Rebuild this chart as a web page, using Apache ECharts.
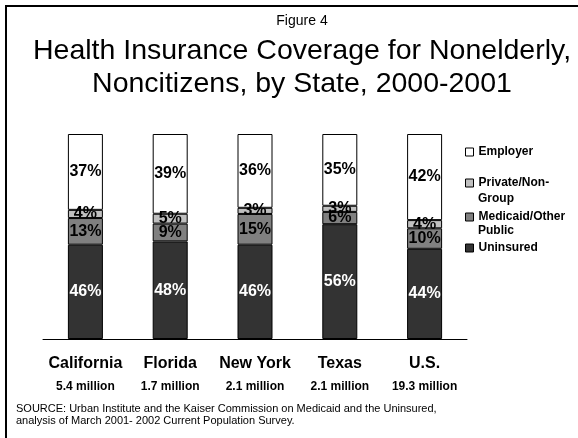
<!DOCTYPE html>
<html>
<head>
<meta charset="utf-8">
<script src="https://cdn.jsdelivr.net/npm/echarts@6/dist/echarts.min.js"></script>
<style>
  html, body { margin: 0; padding: 0; background: #fff; }
  #chart { width: 578px; height: 438px; }
</style>
</head>
<body>
<div id="chart"></div>
<script>
var categories = ['California', 'Florida', 'New York', 'Texas', 'U.S.'];
var populations = ['5.4 million', '1.7 million', '2.1 million', '2.1 million', '19.3 million'];

// shares in percent (Florida labels round to 101)
var uninsured = [46, 47.6, 46, 56, 44];
var medicaid = [13, 8.7, 15, 6, 10];
var privateNonGroup = [4, 4.8, 3, 3, 4];
var employer = [37, 38.9, 36, 35, 42];

var FONT = '"Liberation Sans", Arial, sans-serif';

function barSerie(name, data, color, labelColor) {
	return {
		name: name,
		type: 'bar',
		stack: 'total',
		barWidth: 35,
		data: data,
		itemStyle: { color: color, borderColor: '#000', borderWidth: 1 },
		label: {
			show: true,
			position: 'inside',
			color: labelColor,
			fontSize: 16,
			fontWeight: 'bold',
			fontFamily: FONT,
			formatter: function (p) { return Math.round(p.value) + '%'; }
		}
	};
}

function legendItem(name, firstLine, top) {
	return {
		data: [{ name: name, icon: 'rect' }],
		left: 465,
		top: top,
		padding: 0,
		itemWidth: 8,
		itemHeight: 8,
		selectedMode: false,
		itemStyle: { borderColor: '#000', borderWidth: 1 },
		formatter: function () { return firstLine; },
		textStyle: { fontSize: 12, fontWeight: 'bold', color: '#000', fontFamily: FONT }
	};
}

function sideText(text, x, y, size, weight, align) {
	return {
		type: 'text',
		x: x,
		y: y,
		style: {
			text: text,
			fill: '#000',
			font: (weight || 'normal') + ' ' + size + 'px ' + FONT,
			textAlign: align || 'center',
			textVerticalAlign: 'middle'
		}
	};
}

var chartObj = echarts.init(document.getElementById('chart'));
var option = {
	animation: false,
	backgroundColor: '#fff',
	textStyle: { fontFamily: FONT },
	grid: { left: 43, right: 111, top: 134, bottom: 99 },
	legend: [
		legendItem('Employer', 'Employer', 146),
		legendItem('Private/Non-Group', 'Private/Non-', 177),
		legendItem('Medicaid/Other Public', 'Medicaid/Other', 211),
		legendItem('Uninsured', 'Uninsured', 242)
	],
	xAxis: {
		type: 'category',
		data: categories,
		axisLine: { lineStyle: { color: '#000', width: 1 } },
		axisTick: { show: false },
		axisLabel: {
			margin: 8,
			interval: 0,
			formatter: function (value, idx) {
				return '{a|' + value + '}\n{b|' + populations[idx] + '}';
			},
			rich: {
				a: { fontSize: 16, fontWeight: 'bold', color: '#000', lineHeight: 33, fontFamily: FONT },
				b: { fontSize: 12, fontWeight: 'bold', color: '#000', lineHeight: 14, fontFamily: FONT }
			}
		}
	},
	yAxis: {
		type: 'value',
		min: 0,
		max: 100,
		show: false,
		splitLine: { show: false }
	},
	series: [
		barSerie('Uninsured', uninsured, '#333333', '#fff'),
		barSerie('Medicaid/Other Public', medicaid, '#808080', '#000'),
		barSerie('Private/Non-Group', privateNonGroup, '#c0c0c0', '#000'),
		barSerie('Employer', employer, '#ffffff', '#000')
	],
	graphic: [
		{
			type: 'rect',
			shape: { x: 6, y: 6, width: 700, height: 600 },
			style: { fill: 'none', stroke: '#000', lineWidth: 2 }
		},
		sideText('Figure 4', 302, 21, 14),
		sideText('Health Insurance Coverage for Nonelderly,', 302, 51, 28.5),
		sideText('Noncitizens, by State, 2000-2001', 302, 84, 28.5),
		sideText('Group', 478, 199, 12, 'bold', 'left'),
		sideText('Public', 478, 231, 12, 'bold', 'left'),
		sideText('SOURCE: Urban Institute and the Kaiser Commission on Medicaid and the Uninsured,', 16, 409, 11, 'normal', 'left'),
		sideText('analysis of March 2001- 2002 Current Population Survey.', 16, 421, 11, 'normal', 'left')
	]
};
chartObj.setOption(option);
</script>
</body>
</html>
